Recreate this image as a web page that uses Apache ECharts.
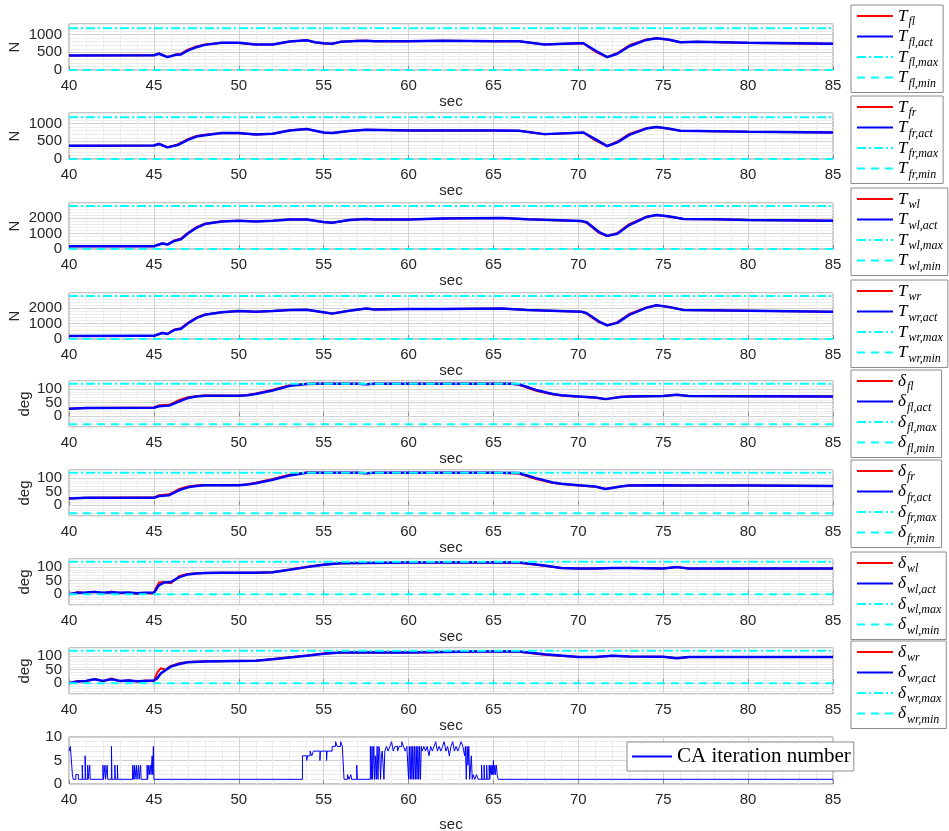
<!DOCTYPE html>
<html><head><meta charset="utf-8">
<script src="https://cdn.jsdelivr.net/npm/echarts@6/dist/echarts.min.js"></script>
<style>html,body{margin:0;padding:0;background:#fff}#c{width:949px;height:831px}</style>
</head><body><div id="c"></div>
<script>
// ---------------- DATA ----------------
const xTicks = [40,45,50,55,60,65,70,75,80,85];
const tfTicks = [0,500,1000];
const twTicks = [0,1000,2000];
const dTicks = [0,50,100];
const caTicks = [0,5,10];

const tfLimits = [0,1180];     // [min, max]
const twLimits = [0,2800];
const dfLimits = [-30,120];
const dwLimits = [0,120];

// T_fl
const tFlTime = [40,45,45.3,45.8,46.3,46.6,47,47.5,48,49,50,51,52,53,54,54.5,55,55.5,56,57,57.5,58,60,62,65,66.5,68,70,70.3,71,71.7,72.3,73,74,74.6,75.3,76,77,80,85];
const tFlAct  = [412,415,460,365,430,440,550,645,710,767,767,720,720,805,840,785,756,740,795,823,830,815,815,830,812,812,720,756,756,552,365,460,672,850,896,860,785,795,767,740];
const tFlRef  = [412,415,470,370,440,460,575,665,720,770,765,720,722,808,840,780,752,742,798,825,830,815,815,828,812,810,718,756,752,520,360,480,700,860,896,855,783,795,766,742];
// T_fr
const tFrTime = [40,45,45.3,45.8,46.4,47,47.5,48,49,50,51,52,53,54,55,55.5,56.5,57.5,60,65,66.5,68,70.3,71,71.7,72.3,73,74,74.6,75.3,76,80,85];
const tFrAct  = [375,380,424,328,395,539,634,674,732,732,692,712,807,847,749,732,790,827,807,807,800,703,749,560,366,470,683,860,905,860,798,769,749];
const tFrRef  = [375,380,430,335,410,560,650,685,735,730,692,714,810,845,745,734,793,827,806,806,798,700,745,525,360,495,710,870,905,855,796,768,750];
// T_wl
const tWlTime = [40,45,45.5,45.8,46.2,46.6,47,47.5,48,49,50,51,52,53,54,55,55.5,56.5,57.5,58,60,62,65.5,67,70.2,70.5,71.2,71.7,72.3,73,74,74.6,75.3,76.2,78,80,85];
const tWlAct  = [178,180,355,288,526,638,1010,1380,1625,1800,1845,1800,1845,1930,1930,1755,1715,1890,1960,1930,1930,1990,2020,1940,1820,1740,1120,855,990,1560,2085,2215,2130,1955,1940,1890,1850];
const tWlRef  = [178,185,380,300,560,680,1060,1420,1650,1810,1845,1800,1848,1932,1928,1750,1718,1895,1960,1930,1930,1990,2018,1938,1810,1700,1060,850,1040,1620,2110,2215,2120,1950,1940,1890,1850];
// T_wr
const tWrTime = [40,45,45.5,45.8,46.2,46.6,47,47.5,48,49,50,51,52,53,54,55,55.5,56.5,57.5,58,60,62,65.5,67,70.2,70.5,71.2,71.7,72.3,73,74,74.6,75.3,76.2,80,85];
const tWrAct  = [200,205,390,325,590,675,1010,1360,1575,1740,1825,1780,1825,1890,1910,1740,1655,1845,1990,1930,1950,1950,1990,1890,1780,1680,1155,890,1050,1575,2030,2200,2095,1890,1845,1780];
const tWrRef  = [200,210,410,335,620,710,1060,1400,1600,1750,1825,1780,1828,1892,1908,1735,1660,1850,1990,1930,1950,1950,1988,1888,1770,1640,1100,885,1100,1630,2060,2200,2085,1885,1845,1780];
// delta_fl
const dFlTime = [40,41,45,45.3,45.9,46.5,47,47.5,48,50,50.5,51,52,53,54,54.5,55,57,57.5,58,66,66.5,67.5,68.5,69,70,71,71.6,72.5,73,75,75.8,76.5,80,85];
const dFlAct  = [27,30,31,36.5,39,55,67,73,75.5,75.5,77,82,95,112,119,120,120,120,118,120,120,118,97,82,77,73,69,63,71,73,75,79,74.5,74,73];
const dFlRef  = [27,30,32,40,42,60,70,74,76,75.5,78,84,98,114,120,120,120,120,118,120,120,116,94,80,76,72,68,63,72,73,75,79,74.5,74,73];
// delta_fr
const dFrTime = [40,41,45,45.3,45.9,46.5,47,47.5,48,50,50.5,51,52,53,54,55,57,57.5,58,65,66.5,67.5,68.5,69,70,71,71.6,72.5,73,75,75.8,80,85];
const dFrAct  = [25,27,27,33.5,37,56,66,71,74,74,76,81,94,110,120,120,120,118,120,120,119,100,84,79,74,69,60,69,72.5,74,73,72.5,71];
const dFrRef  = [25,27,28,37,40,60,69,73,75,74,77,83,97,113,121,120,120,118,120,120,117,97,82,78,73,68,60,70,72.5,74,73,72.5,71];
// delta_wl
const dWlTime = [40,40.5,41,41.5,42,42.5,43,43.5,44,44.5,45,45.1,45.3,45.6,46,46.5,47,47.5,48,49,50,51,52,53,54,55,56,60,65,66.5,68,69,70,71,72,73,75,75.8,76.5,80,85];
const dWlAct  = [0,5,6,8.5,5,7,5,6,3.6,5,5,8,33,43,45,63,73,76,78,79,79,79,81,90,100,109,114,117,117,117,106,97,95,95,97,97,95,100,95,95,95];
const dWlRef  = [0,7,4,9,3,10,3,5,2,4,2,20,43,45,40,67,75,77,78,79,79,79,81,91,101,110,114,117,117,116,105,97,95,95,97,97,95,100,95,95,95];
// delta_wr
const dWrTime = [40,40.5,41,41.5,42,42.5,43,43.5,44,44.5,45,45.2,45.4,45.7,46,46.5,47,48,50,51,52,53,54,55,56,60,65,66.5,68,70,71,72,73,75,75.8,76.5,80,85];
const dWrAct  = [0,6,8.5,14.6,8.5,14.6,8.5,9.7,7.3,8.5,9.7,18,36,48.7,61,71,77,80,82,83,88,95,101,109,113,113,118,117,107,97,97,101,99,98,92,97,97,97];
const dWrRef  = [0,8,6,16,7,17,7,11,6,10,8,40,55,50,64,74,78,81,82,83,89,96,102,110,113,113,118,116,105,97,97,101,99,98,92,97,97,97];
// CA iteration number: [time, count] (held until next time)
const caSteps = [
 [40.00,7],[40.08,8],[40.12,6],[40.20,2],[40.25,1],[40.40,2],[40.55,1],[40.78,4],[40.81,1],[40.95,6],[40.98,1],
 [41.10,4],[41.13,1],[41.22,4],[41.25,1],[42.00,4],[42.03,1],[42.12,4],[42.15,1],[42.25,4],[42.28,1],[42.50,8],[42.53,1],
 [42.70,4],[42.73,1],[42.85,4],[42.88,1],[43.75,4],[43.78,1],[43.85,4],[43.88,1],[43.97,4],[44.00,1],[44.10,4],[44.13,1],
 [44.22,4],[44.25,1],[44.60,4],[44.63,1],[44.70,4],[44.73,2],[44.80,4],[44.83,2],[44.90,6],[44.93,2],[44.97,8],[45.00,1],
 [53.75,6],[54.00,5],[54.05,6],[54.20,7],[54.30,6],[54.40,7],[54.78,5],[54.81,7],[55.17,5],[55.20,7],[55.50,8],[55.70,9],
 [55.80,8],[56.00,9],[56.10,8],[56.20,1],[56.40,2],[56.50,1],[56.60,2],[56.65,1],[56.95,4],[56.98,1],
 [57.75,8],[57.80,1],[57.85,8],[57.88,1],[57.95,8],[58.00,1],[58.05,6],[58.10,1],[58.15,8],[58.20,1],[58.25,8],[58.30,7],
 [58.35,1],[58.40,6],[58.45,7],[58.55,1],[58.60,7],[58.70,8],[58.80,7],[58.90,8],[59.00,9],[59.10,7],[59.20,8],[59.35,7],
 [59.45,8],[59.60,9],[59.70,8],[59.80,7],[59.90,8],[60.00,1],[60.05,8],[60.10,1],[60.15,8],[60.20,1],[60.25,8],[60.30,1],
 [60.35,8],[60.40,1],[60.45,8],[60.50,1],[60.55,8],[60.60,1],[60.65,8],[60.70,1],[60.75,8],[60.80,7],[60.90,8],[61.00,7],
 [61.10,8],[61.20,6],[61.30,8],[61.40,7],[61.50,8],[61.60,9],[61.70,7],[61.80,8],[61.90,7],[62.00,8],[62.10,9],[62.20,7],
 [62.30,8],[62.40,6],[62.50,8],[62.60,9],[62.70,7],[62.80,8],[62.90,7],[63.00,8],[63.10,9],[63.20,8],[63.30,6],[63.35,8],
 [63.40,1],[63.45,8],[63.50,4],[63.55,8],[63.60,1],[63.70,6],[63.75,1],[63.80,2],[63.90,1],[64.00,2],[64.10,1],[64.30,4],
 [64.33,1],[64.45,4],[64.48,1],[64.60,4],[64.63,1],[64.75,4],[64.78,1],[64.85,4],[64.88,2],[64.92,4],[64.95,2],[65.00,5],
 [65.03,2],[65.08,4],[65.12,2],[65.17,4],[65.22,2],[65.28,1],[85.00,1]
];

// ---------------- LAYOUT / STYLE ----------------
const gridTops = [24,113,203,293,381,470,559,648,737];
const legendTops = [5,96,188,280,370,460,552,641];
const TXT = '#262626', AX = '#8c8c8c', MAJ = '#d2d2d2', MIN = '#ececec';
const SANS = 'Liberation Sans', SERIF = 'Liberation Serif';

const panels = [
  {sym:'T', sub:'fl', t:tFlTime, ref:tFlRef, act:tFlAct, lim:tfLimits, ymin:0,   ymax:1300, step:100, ticks:tfTicks, yname:'N'},
  {sym:'T', sub:'fr', t:tFrTime, ref:tFrRef, act:tFrAct, lim:tfLimits, ymin:0,   ymax:1300, step:100, ticks:tfTicks, yname:'N'},
  {sym:'T', sub:'wl', t:tWlTime, ref:tWlRef, act:tWlAct, lim:twLimits, ymin:0,   ymax:3000, step:200, ticks:twTicks, yname:'N'},
  {sym:'T', sub:'wr', t:tWrTime, ref:tWrRef, act:tWrAct, lim:twLimits, ymin:0,   ymax:3000, step:200, ticks:twTicks, yname:'N'},
  {sym:'δ', sub:'fl', t:dFlTime, ref:dFlRef, act:dFlAct, lim:dfLimits, ymin:-40, ymax:130,  step:10,  ticks:dTicks,  yname:'deg'},
  {sym:'δ', sub:'fr', t:dFrTime, ref:dFrRef, act:dFrAct, lim:dfLimits, ymin:-40, ymax:130,  step:10,  ticks:dTicks,  yname:'deg'},
  {sym:'δ', sub:'wl', t:dWlTime, ref:dWlRef, act:dWlAct, lim:dwLimits, ymin:-40, ymax:130,  step:10,  ticks:dTicks,  yname:'deg'},
  {sym:'δ', sub:'wr', t:dWrTime, ref:dWrRef, act:dWrAct, lim:dwLimits, ymin:-40, ymax:130,  step:10,  ticks:dTicks,  yname:'deg'}
];

function splitColors(min, max, step, ticks) {
  const out = [];
  for (let v = min; v <= max + 1e-9; v += step) out.push(ticks.indexOf(Math.round(v*1000)/1000) >= 0 ? MAJ : MIN);
  return out;
}

const grid = [], xAxis = [], yAxis = [], series = [], legend = [];
const labelStyle = {fontFamily:SANS, fontSize:15, color:TXT};

gridTops.forEach((top, i) => {
  grid.push({left:69, width:764, top:top, height: i === 8 ? 47 : 46, show:true,
    containLabel:false, outerBoundsMode:'none',
    borderColor:AX, borderWidth:1, backgroundColor:'#fff'});
  xAxis.push({type:'value', gridIndex:i, min:xTicks[0], max:xTicks[xTicks.length-1], interval:xTicks[1]-xTicks[0],
    axisLine:{show:false},
    axisTick:{show:true, inside:true, length:4, lineStyle:{color:AX}},
    axisLabel:Object.assign({margin:8}, labelStyle),
    splitLine:{show:true, lineStyle:{color:MAJ, width:1}},
    minorTick:{show:false, splitNumber:5},
    minorSplitLine:{show:true, lineStyle:{color:MIN, width:1}},
    name:'sec', nameLocation:'middle', nameGap: i === 8 ? 33 : 24, nameMoveOverlap:false, nameTextStyle:labelStyle});
});

panels.forEach((p, i) => {
  yAxis.push({type:'value', gridIndex:i, min:p.ymin, max:p.ymax, interval:p.step,
    axisLine:{show:false}, axisTick:{show:false},
    axisLabel:Object.assign({margin:7, formatter: v => (p.ticks.indexOf(v) >= 0 ? String(v) : '')}, labelStyle),
    splitLine:{show:true, lineStyle:{color:splitColors(p.ymin, p.ymax, p.step, p.ticks), width:1}},
    name:p.yname, nameLocation:'middle', nameGap: p.yname === 'N' ? 47 : 37, nameMoveOverlap:false, nameTextStyle:labelStyle});
  const base = p.sym + '|' + p.sub;
  const names = [base, base + ',act', base + ',max', base + ',min'];
  series.push({type:'line', name:names[0], xAxisIndex:i, yAxisIndex:i, symbol:'none', showSymbol:false,
    data:p.t.map((x,k) => [x, p.ref[k]]), lineStyle:{color:'#ff0000', width:2}, itemStyle:{color:'#ff0000'}, z:2});
  series.push({type:'line', name:names[1], xAxisIndex:i, yAxisIndex:i, symbol:'none', showSymbol:false,
    data:p.t.map((x,k) => [x, p.act[k]]), lineStyle:{color:'#0000ff', width:2.5}, itemStyle:{color:'#0000ff'}, z:3});
  series.push({type:'line', name:names[2], xAxisIndex:i, yAxisIndex:i, symbol:'none', showSymbol:false, clip:false,
    data:[[xTicks[0], p.lim[1]], [xTicks[xTicks.length-1], p.lim[1]]],
    lineStyle:{color:'#00ffff', width:2, type:[9,3,2,3]}, itemStyle:{color:'#00ffff'}, z:4});
  series.push({type:'line', name:names[3], xAxisIndex:i, yAxisIndex:i, symbol:'none', showSymbol:false, clip:false,
    data:[[xTicks[0], p.lim[0]], [xTicks[xTicks.length-1], p.lim[0]]],
    lineStyle:{color:'#00ffff', width:2, type:[8,6]}, itemStyle:{color:'#00ffff'}, z:4});
  legend.push({orient:'vertical', left:851, top:legendTops[i], data:names,
    itemWidth:36, itemHeight:14, itemGap:0.5, padding:[3,5,3,5],
    borderColor:AX, borderWidth:1, backgroundColor:'#fff', borderRadius:0, selectedMode:false,
    itemStyle:{opacity:0},
    formatter: n => { const s = n.split('|'); return '{m|' + s[0] + '}{s|' + s[1] + '}'; },
    textStyle:{width:45, rich:{
      m:{fontFamily:SERIF, fontStyle:'italic', fontSize:17, lineHeight:16, verticalAlign:'top', color:'#000'},
      s:{fontFamily:SERIF, fontStyle:'italic', fontSize:12, lineHeight:11, padding:[8,0,0,1], verticalAlign:'top', color:'#000'}
    }}});
});

// CA panel
yAxis.push({type:'value', gridIndex:8, min:caTicks[0], max:caTicks[caTicks.length-1], interval:1,
  axisLine:{show:false}, axisTick:{show:false},
  axisLabel:Object.assign({margin:7, formatter: v => (caTicks.indexOf(v) >= 0 ? String(v) : '')}, labelStyle),
  splitLine:{show:true, lineStyle:{color:splitColors(caTicks[0], caTicks[caTicks.length-1], 1, caTicks), width:1}}});
series.push({type:'line', name:'CA iteration number', xAxisIndex:8, yAxisIndex:8, symbol:'none', showSymbol:false,
  step:'end', data:caSteps, lineStyle:{color:'#0000ff', width:1}, itemStyle:{color:'#0000ff'}, z:3});
legend.push({orient:'vertical', left:627, top:742, data:['CA iteration number'],
  itemWidth:40, itemHeight:14, padding:[4,3,4,4], borderColor:AX, borderWidth:1, backgroundColor:'#fff',
  borderRadius:0, selectedMode:false, itemStyle:{opacity:0},
  textStyle:{fontFamily:SERIF, fontSize:21, color:'#000'}});

const chart = echarts.init(document.getElementById('c'), null, {renderer:'canvas'});
chart.setOption({animation:false, backgroundColor:'#fff', grid, xAxis, yAxis, series, legend});
</script></body></html>
